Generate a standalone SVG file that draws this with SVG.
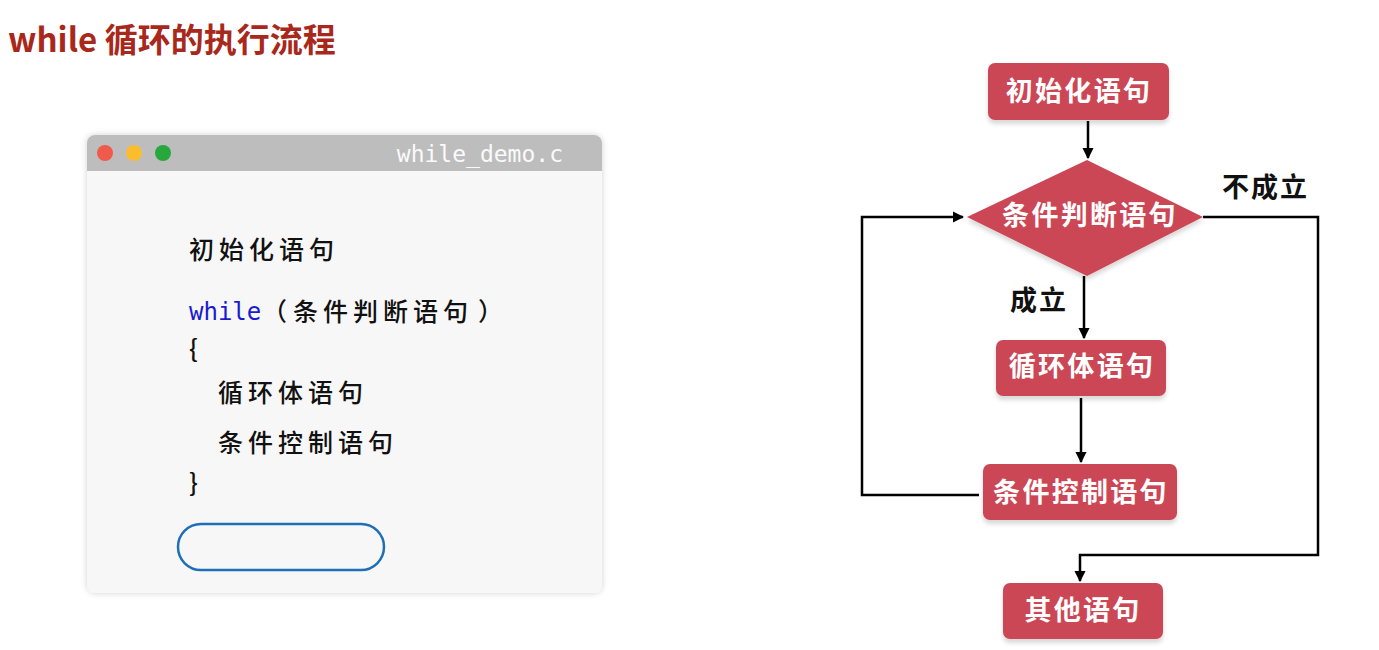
<svg xmlns="http://www.w3.org/2000/svg" width="1379" height="650" viewBox="0 0 1379 650">
<defs>
<style>
.title{font-family:"Noto Sans CJK SC","Noto Sans",sans-serif;font-weight:700;font-size:33px;fill:#a8281c}
.code{font-family:"Noto Sans CJK SC",sans-serif;font-weight:500;font-size:25px;fill:#111;letter-spacing:5px}
.kw{font-family:"DejaVu Sans Mono","Liberation Mono",monospace;font-size:24px;fill:#1a1ad0}
.fname{font-family:"DejaVu Sans Mono","Liberation Mono",monospace;font-size:23px;fill:#fafafa}
.node{fill:#cc4754}
.ntext{font-family:"Noto Sans CJK SC",sans-serif;font-weight:700;font-size:27px;fill:#fff;text-anchor:middle;letter-spacing:2.3px}
.lbl{font-family:"Noto Sans CJK SC",sans-serif;font-weight:700;font-size:27px;fill:#111;letter-spacing:2px}
.conn{fill:none;stroke:#000;stroke-width:2.5}
</style>
<marker id="arr" viewBox="0 0 10 10" refX="9" refY="5" markerWidth="4.5" markerHeight="4.5" orient="auto" markerUnits="strokeWidth">
<path d="M0,0 L10,5 L0,10 z" fill="#000"/>
</marker>
<filter id="sh" x="-10%" y="-10%" width="120%" height="130%">
<feDropShadow dx="0" dy="4" stdDeviation="2" flood-color="#000" flood-opacity="0.15"/>
</filter>
<filter id="wsh" x="-5%" y="-5%" width="110%" height="110%">
<feDropShadow dx="0" dy="0" stdDeviation="3" flood-color="#000" flood-opacity="0.18"/>
</filter>
</defs>
<rect width="1379" height="650" fill="#fff"/>
<text class="title" x="8" y="52">while 循环的执行流程</text>

<g id="window">
<rect x="87" y="135" width="515" height="458" rx="8" fill="#f7f7f7" filter="url(#wsh)"/>
<path d="M87,171 V143 a8,8 0 0 1 8,-8 H594 a8,8 0 0 1 8,8 V171 z" fill="#bdbdbd"/>
<circle cx="105" cy="153" r="8" fill="#f05a4a"/>
<circle cx="134" cy="153" r="8" fill="#fbbd2e"/>
<circle cx="163" cy="153" r="8" fill="#27a83c"/>
<text class="fname" x="563" y="162" text-anchor="end">while_demo.c</text>
<text class="code" x="189" y="259">初始化语句</text>
<text class="kw" x="189" y="320">while</text>
<text class="code" x="262" y="321">（</text>
<text class="code" x="293" y="321">条件判断语句</text>
<text class="code" x="478" y="321">）</text>
<text class="code" x="189" y="358">{</text>
<text class="code" x="218" y="402">循环体语句</text>
<text class="code" x="218" y="452">条件控制语句</text>
<text class="code" x="189" y="492">}</text>
<rect x="178" y="524" width="206" height="46" rx="23" fill="none" stroke="#1f6fb8" stroke-width="2.5"/>
</g>

<g id="connectors">
<path class="conn" d="M1088,121 V158" marker-end="url(#arr)"/>
<path class="conn" d="M1084,276 V338" marker-end="url(#arr)"/>
<path class="conn" d="M1081,398 V462" marker-end="url(#arr)"/>
<path class="conn" d="M979,495 H862 V217 H963" marker-end="url(#arr)"/>
<path class="conn" d="M1203,217 H1318 V555 H1080 V581" marker-end="url(#arr)"/>
</g>

<g id="n1">
<rect class="node" x="988" y="63" width="181" height="57" rx="7" filter="url(#sh)"/>
<text class="ntext" x="1079" y="101">初始化语句</text>
</g>
<g id="n2">
<polygon class="node" points="1087,160 1203,217 1087,276 967,217" filter="url(#sh)"/>
<text class="ntext" x="1090" y="225">条件判断语句</text>
</g>
<g id="n3">
<rect class="node" x="996" y="340" width="170" height="56" rx="7" filter="url(#sh)"/>
<text class="ntext" x="1082" y="376">循环体语句</text>
</g>
<g id="n4">
<rect class="node" x="983" y="464" width="194" height="56" rx="7" filter="url(#sh)"/>
<text class="ntext" x="1081" y="502">条件控制语句</text>
</g>
<g id="n5">
<rect class="node" x="1003" y="583" width="160" height="56" rx="7" filter="url(#sh)"/>
<text class="ntext" x="1083" y="620">其他语句</text>
</g>
<text class="lbl" x="1222" y="197">不成立</text>
<text class="lbl" x="1010" y="310">成立</text>
</svg>
